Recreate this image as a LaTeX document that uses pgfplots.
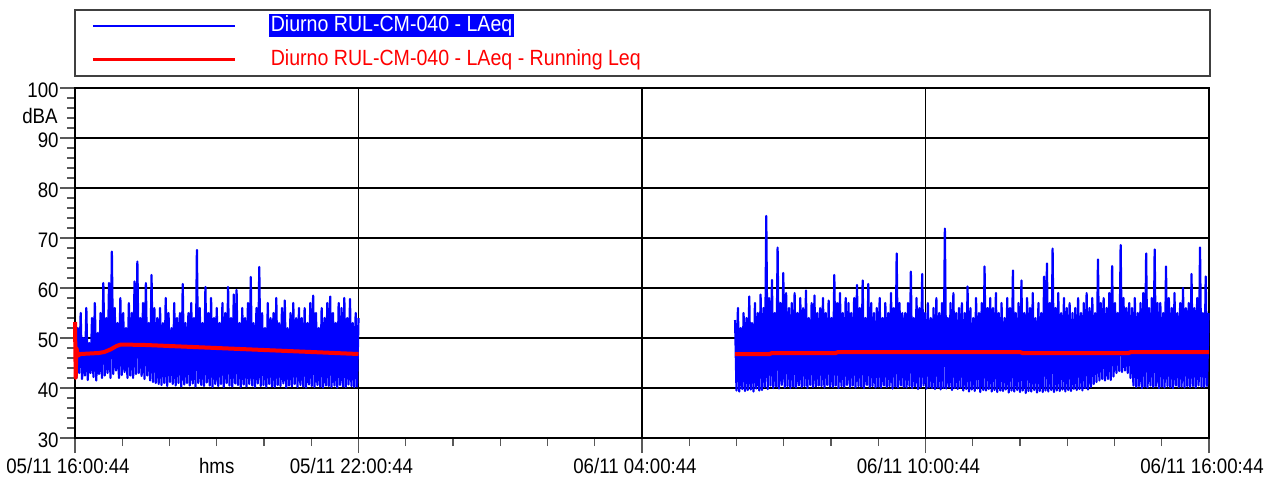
\documentclass[border=0pt]{standalone}
\usepackage{pgfplots}
\usepackage{pgfplotstable}
\pgfplotsset{compat=1.18}
\usepackage{fontspec}
\setmainfont{Liberation Sans}[FakeStretch=0.89]

\pgfplotstableread[row sep=\\, header=false]{
53\\42\\52\\43\\55\\41.8\\50\\42.5\\56\\41.6\\49\\43\\54\\42.2\\57\\41.5\\51\\42.8\\55\\42\\
61\\42.5\\54\\43\\61\\42\\67.3\\42.8\\56\\43.5\\53\\42\\58\\42.6\\55\\43.2\\52\\42\\57\\42.5\\
55\\42\\61.3\\42.8\\65.3\\43\\54\\42.4\\57\\41.8\\61\\42.5\\53\\41.5\\62.6\\41.2\\56\\41\\54\\40.8\\
56\\40.6\\53\\41\\58\\40.4\\55\\41.2\\52\\40.8\\57\\40.5\\54\\41\\55\\40.3\\60.8\\40.7\\53\\41\\
55\\40.5\\57\\40.9\\54\\40.3\\67.6\\41\\56\\40.6\\53\\40.4\\60.2\\41.1\\55\\40.5\\58\\40.2\\54\\40.8\\
56\\40.4\\53\\40.8\\57\\40.2\\55\\41\\60.2\\40.5\\54\\40.3\\58.7\\40.9\\59.6\\40.6\\53\\40.2\\56\\40.7\\
54\\40.3\\57\\40.8\\62.2\\40.5\\53\\40.2\\56\\40.9\\64.2\\40.4\\55\\40.6\\52\\40.2\\57\\40.8\\54\\40.3\\
55\\40.2\\58\\40.6\\53\\40.4\\56\\40.9\\57.5\\40.1\\52\\40.5\\55\\40.3\\57\\40.8\\54\\40.2\\56\\40.6\\
54\\40.3\\56\\40.1\\53\\40.7\\57\\40.4\\58.5\\40.2\\55\\40.6\\52\\40.3\\56\\40.1\\54\\40.5\\57\\40.4\\
58.3\\40.2\\55\\40.5\\53\\40.1\\57\\40.6\\56\\40.3\\58\\40.2\\54\\40.7\\57.8\\40.4\\53\\40.2\\55\\40.3\\
54\\
}\segA

\pgfplotstableread[row sep=\\, header=false]{
53.6\\39.5\\56\\39.3\\52\\39.8\\55\\39.4\\54\\39.6\\58.3\\39.7\\53\\39.3\\57\\39.9\\55\\39.5\\58.7\\39.6\\
56\\40.2\\74.4\\39.8\\58\\40.5\\61.6\\40\\55\\40.3\\68.1\\39.9\\57\\40.6\\63\\40.1\\59\\40.4\\56\\40\\
57\\40.3\\59\\40.1\\55\\40.5\\58\\40.2\\56\\40.4\\59.5\\40\\54\\40.6\\57\\40.2\\58.5\\40.3\\55\\40.5\\
56\\40.4\\58\\40.1\\55\\40.6\\57.5\\40.3\\54\\40.2\\62.6\\40.5\\57\\40\\59\\40.4\\55\\40.2\\58\\40.6\\
57\\40.2\\55\\40.5\\58\\40.1\\60.6\\40.4\\56\\40.3\\61.5\\40\\54\\40.6\\60.8\\40.2\\57\\40.4\\55\\40.1\\
56\\40.3\\58\\40.1\\54\\40.5\\57\\40.2\\55\\40.4\\59\\39.9\\56\\40.3\\66.9\\40.1\\57\\40.5\\55\\40.2\\
55\\40.1\\57\\40.4\\63.3\\40\\54\\40.3\\58\\39.8\\56\\40.2\\62.8\\40.5\\55\\39.9\\57\\40.2\\54\\40\\
56\\39.8\\58\\40.1\\55\\39.7\\57\\40\\71.9\\39.9\\54\\40.2\\57\\39.6\\59\\40\\55\\39.8\\56\\40.1\\
57\\39.5\\55\\39.8\\60.3\\39.3\\56\\39.7\\54\\39.4\\58\\39.9\\55\\39.2\\57\\39.6\\64.3\\39.5\\56\\39.8\\
58\\39.3\\56\\39.6\\59\\39.2\\55\\39.5\\57\\39.4\\54\\39.7\\58\\39.1\\56\\39.5\\63.5\\39.3\\55\\39.6\\
57\\39.2\\61.5\\39.5\\55\\39\\58\\39.4\\56\\39.3\\59\\39.6\\54\\39.1\\57\\39.4\\55\\39.2\\62.3\\39.5\\
64.9\\39.3\\57\\39.6\\67.9\\39.2\\56\\39.5\\59\\39.4\\55\\39.7\\58\\39.3\\56\\39.6\\57\\39.4\\55\\39.8\\
56\\39.6\\58\\39.8\\55\\39.5\\57\\40\\59\\39.7\\56\\40.2\\58\\40.8\\55\\41.2\\65.7\\41.5\\57\\41.8\\
58\\41.5\\56\\41.8\\59\\41.6\\64.4\\42.3\\57\\43\\55\\43.4\\68.6\\43.2\\58\\43.5\\56\\43\\57\\42\\
56\\40.5\\58\\40.2\\55\\40.4\\57\\40\\59\\40.3\\66.9\\40.1\\56\\40.5\\58\\40.2\\67.7\\40.4\\57\\40\\
57\\40.3\\55\\40.1\\64.3\\40.4\\58\\40.2\\56\\40\\59\\40.5\\55\\40.2\\57\\40.3\\60\\40.1\\56\\40.4\\
57\\40.2\\62.8\\40.4\\56\\40.1\\58\\40.5\\68.1\\40.3\\55\\40.2\\62.3\\40.4\\55\\
}\segB

\begin{document}
\begin{tikzpicture}
\begin{axis}[
  scale only axis, width=567pt, height=175pt,
  at={(0,0)}, anchor=south west,
  xmin=0, xmax=24, ymin=30, ymax=100,
  clip=false,
  axis line style={black, line width=1pt},
  xtick={0,6,12,18,24},
  xticklabels={05/11 16:00:44, 05/11 22:00:44, 06/11 04:00:44, 06/11 10:00:44, 06/11 16:00:44},
  extra x ticks={3}, extra x tick labels={hms},
  extra x tick style={major tick length=0pt, grid=none, xticklabel style={xshift=3.5pt, yshift=-7.5pt}},
  minor x tick num=5,
  ytick={30,40,...,100}, minor y tick num=4,
  xtick pos=bottom, ytick pos=left,
  tick align=outside, major tick length=7.5pt, minor tick length=4pt,
  tick style={black!65, line width=0.6pt},
  grid=major, major grid style={black, line width=0.7pt},
  /pgf/number format/assume math mode=true,
  tick label style={font=\fontsize{10.5}{12}\selectfont},
  xticklabel style={xshift=-3.5pt, inner sep=0pt, text height=7.5pt, yshift=-2.5pt},
  yticklabel style={inner sep=0.5pt, yshift=-1.2pt},
  legend style={at={(axis description cs:0.01411,1.2134)}, anchor=north west,
    draw=none, fill=none, inner sep=0pt, column sep=16.5pt, row sep=5.3pt,
    font=\fontsize{11}{13}\selectfont,
    nodes={inner sep=0.8pt, text height=7.9pt, text depth=2.3pt}},
  legend cell align=left,
]
\addplot[blue, line width=1.1pt, line join=round,
  legend image code/.code={\draw[draw=blue, color=blue, line width=1pt] (0pt,0pt) -- (71pt,0pt);}]
  table[x expr=0.03*\coordindex, y index=0]{\segA};
\addlegendentry[fill=blue, text=white]{Diurno RUL-CM-040 - LAeq}
\addplot[blue, line width=1.1pt, line join=round, forget plot]
  table[x expr=13.97+0.03*\coordindex, y index=0]{\segB};
\addplot[red, line width=2pt, line join=round,
  legend image code/.code={\draw[red, line width=1.4pt] (0pt,0pt) -- (71pt,0pt);}]
  coordinates {(0,53.2)(0.015,42)(0.03,48)(0.06,46.5)(0.12,46.8)(0.5,47)(0.62,47.2)
  (0.75,47.7)(0.88,48.4)(0.97,48.7)(1.5,48.6)(2.0,48.4)(2.5,48.2)(3.0,48.0)(3.5,47.8)
  (4.0,47.6)(4.5,47.4)(5.0,47.2)(5.5,47.0)(6.0,46.8)};
\addlegendentry[text=red]{Diurno RUL-CM-040 - LAeq - Running Leq}
\addplot[red, line width=2pt, forget plot]
  coordinates {(13.97,46.8)(14.7,46.8)(14.75,47.0)(16.1,47.0)(16.15,47.2)(20.0,47.2)
  (20.05,47.0)(22.3,47.0)(22.35,47.2)(24,47.2)};
\draw[black!75, line width=0.7pt] (axis description cs:0,1.2229) rectangle (axis description cs:1.0009,1.0343);
\node[anchor=east, inner sep=0pt, font=\fontsize{10.5}{12}\selectfont] at (axis cs:0,94.4) [xshift=-8.5pt] {dBA};
\end{axis}
\pgfresetboundingbox
\useasboundingbox (-37.5pt,-20.5pt) rectangle (599.5pt,219pt);
\end{tikzpicture}
\end{document}
